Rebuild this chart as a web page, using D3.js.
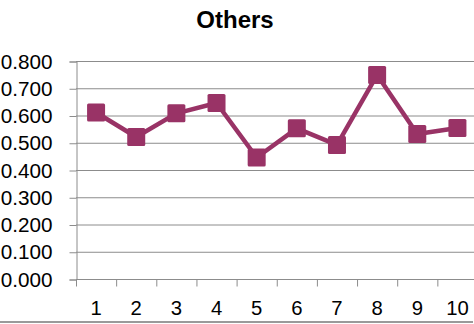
<!DOCTYPE html>
<html><head><meta charset="utf-8">
<script src="https://cdn.jsdelivr.net/npm/d3@7"></script>
<style>html,body{margin:0;padding:0;background:#fff;}svg{display:block;}</style>
</head><body>
<script>
const title = "Others";
const categories = ["1","2","3","4","5","6","7","8","9","10"];
const values = [0.611, 0.521, 0.608, 0.646, 0.446, 0.553, 0.492, 0.749, 0.532, 0.554];
const yTicks = [0, 0.1, 0.2, 0.3, 0.4, 0.5, 0.6, 0.7, 0.8];

const W = 474, H = 324;
const svg = d3.select("body").append("svg").attr("width", W).attr("height", H);

const x = d3.scaleBand().domain(categories).range([76, 477.5]);
const y = d3.scaleLinear().domain([0, 0.8]).range([279, 61]);

// gridlines
svg.append("g").selectAll("line").data(yTicks.slice(1)).join("line")
  .attr("x1", 76).attr("x2", W).attr("y1", d => y(d) + 0.5).attr("y2", d => y(d) + 0.5)
  .attr("stroke", "#8c8c8c").attr("stroke-width", 1);

// y axis
const yAxis = svg.append("g").attr("transform", "translate(76.5,0.5)")
  .call(d3.axisLeft(y).tickValues(yTicks).tickFormat(d3.format(".3f")).tickSizeOuter(0).tickSize(7).tickPadding(17));
yAxis.select(".domain").attr("stroke", "#8c8c8c");
yAxis.selectAll(".tick line").attr("stroke", "#8c8c8c");
yAxis.selectAll("text").attr("font-family", "Liberation Sans, Arial, sans-serif").attr("font-size", 20.7).attr("fill", "#000");

// x axis
const xAxis = svg.append("g").attr("transform", "translate(0," + (y(0) + 0.5) + ")");
xAxis.append("line").attr("x1", 76).attr("x2", W).attr("stroke", "#8c8c8c");
xAxis.selectAll("line.t").data(categories).join("line").attr("class", "t")
  .attr("x1", d => x(d) + 0.5).attr("x2", d => x(d) + 0.5).attr("y1", 0).attr("y2", 7)
  .attr("stroke", "#8c8c8c");
xAxis.selectAll("text").data(categories).join("text")
  .attr("x", d => x(d) + x.bandwidth() / 2).attr("y", 35)
  .attr("text-anchor", "middle")
  .attr("font-family", "Liberation Sans, Arial, sans-serif").attr("font-size", 20.3).attr("fill", "#000")
  .text(d => d);

// line
const pts = categories.map((c, i) => [x(c) + x.bandwidth() / 2, y(values[i])]);
svg.append("path").attr("d", d3.line()(pts))
  .attr("fill", "none").attr("stroke", "#993366").attr("stroke-width", 4.5).attr("stroke-linejoin", "round");

// markers
svg.append("g").selectAll("rect").data(pts).join("rect")
  .attr("x", d => d[0] - 9).attr("y", d => d[1] - 9).attr("width", 18).attr("height", 18)
  .attr("rx", 1.5).attr("fill", "#993366");

// title
svg.append("text").attr("x", 235).attr("y", 28).attr("text-anchor", "middle")
  .attr("font-family", "Liberation Sans, Arial, sans-serif").attr("font-size", 24).attr("font-weight", "bold")
  .attr("fill", "#000").text(title);

// bottom border
svg.append("line").attr("x1", 0).attr("x2", 473).attr("y1", 322).attr("y2", 322)
  .attr("stroke", "#9a9a9a").attr("stroke-width", 2);
</script>
</body></html>
